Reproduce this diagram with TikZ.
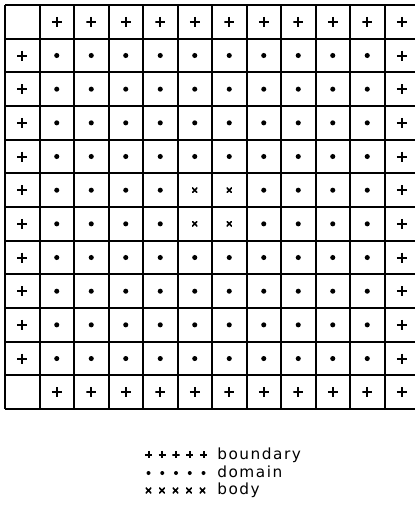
\documentclass[tikz,border=0pt]{standalone}
\usepackage{fontspec}
\newfontfamily\legendfont[LetterSpace=10]{DejaVu Sans}
\usetikzlibrary{positioning}

\begin{document}
\begin{tikzpicture}[
    x=0.75pt, y=-0.75pt,
    gridline/.style={line width=1.5pt},
    bnd/.style={inner sep=0pt, minimum size=7.5pt, path picture={
        \draw[line width=1.5pt]
            (path picture bounding box.north) -- (path picture bounding box.south)
            (path picture bounding box.west) -- (path picture bounding box.east);}},
    dom/.style={circle, fill, inner sep=0pt, minimum size=3.8pt},
    bod/.style={inner sep=0pt, minimum size=4pt, path picture={
        \draw[line width=1.2pt]
            (path picture bounding box.north west) -- (path picture bounding box.south east)
            (path picture bounding box.south west) -- (path picture bounding box.north east);}},
    lbl/.style={anchor=base west, inner sep=0pt,
                font=\legendfont\fontsize{11.5}{14}\selectfont},
]
    \useasboundingbox (0,0) rectangle (415,509);

    % the mesh
    \foreach \c in {0,...,11}
        \draw[gridline] ({5+34.5*\c}, 5) -- ({5+34.5*\c}, 409);
    \foreach \r in {0,...,12}
        \draw[gridline] (5, {5+33.67*\r}) -- (415, {5+33.67*\r});

    % boundary points
    \foreach \c in {2,...,12} {
        \node[bnd] (top\c) at ({5+34.5*(\c-0.5)}, 21.8) {};
        \node[bnd] (bot\c) at ({5+34.5*(\c-0.5)}, 392.2) {};
    }
    \foreach \r in {2,...,11} {
        \node[bnd] (lft\r) at (22.2, {5+33.67*(\r-0.5)}) {};
        \node[bnd] (rgt\r) at (401.8, {5+33.67*(\r-0.5)}) {};
    }

    % domain and body points
    \foreach \r in {2,...,11}
        \foreach \c in {2,...,11} {
            \pgfmathtruncatemacro\isbody{(\r>5)&&(\r<8)&&(\c>5)&&(\c<8)}
            \ifnum\isbody=1
                \node[bod] (p\r-\c) at ({5+34.5*(\c-0.5)}, {5+33.67*(\r-0.5)}) {};
            \else
                \node[dom] (p\r-\c) at ({5+34.5*(\c-0.5)}, {5+33.67*(\r-0.5)}) {};
            \fi
        }

    % legend
    \foreach \k in {0,...,4} {
        \node[bnd, minimum size=5.5pt, line width=1.1pt] (kb\k) at ({148.5+13.75*\k}, 454.5) {};
        \node[dom, minimum size=3pt] (kd\k) at ({148.5+13.75*\k}, 473) {};
        \node[bod, minimum size=4.2pt] (kx\k) at ({148.5+13.5*\k}, 490.5) {};
    }
    \node[lbl] (tb) at (217,459) {boundary};
    \node[lbl] (td) at (217,477) {domain};
    \node[lbl] (tx) at (217,494.5) {body};
\end{tikzpicture}
\end{document}
